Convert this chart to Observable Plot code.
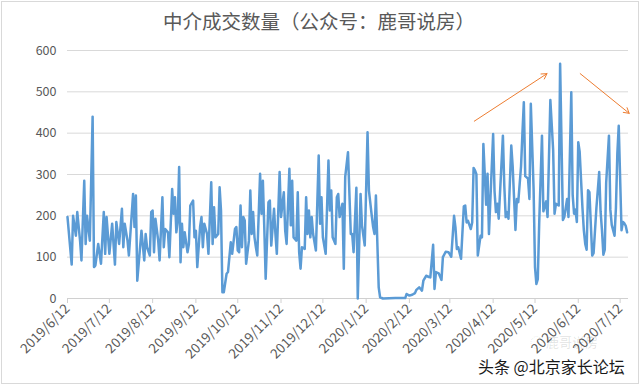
<!DOCTYPE html>
<html>
<head>
<meta charset="utf-8">
<script src="https://cdn.jsdelivr.net/npm/d3@7"></script>
<script src="https://cdn.jsdelivr.net/npm/@observablehq/plot@0.6"></script>
<style>
  body { margin: 0; background: #fff; }
  #wrap { position: relative; width: 640px; height: 385px; overflow: hidden; font-family: "Noto Sans CJK SC", sans-serif; }
  #title { position: absolute; left: 0; width: 638px; top: 6px; text-align: center; font-size: 19.5px; color: #595959; }
  #credit { position: absolute; left: 478px; top: 354px; font-size: 16px; color: #1a1a1a; }
  #wm { position: absolute; left: 530px; top: 334px; font-size: 13px; line-height: 16px; color: rgba(0,0,0,0.12); }
  #frame { position: absolute; left: 1px; top: 1px; width: 636px; height: 381px; border: 1px solid #d9d9d9; pointer-events: none; }
</style>
</head>
<body>
<div id="wrap">
  <div id="chart"></div>
  <div id="title">中介成交数量（公众号：鹿哥说房）</div>
  <div id="wm">◌ 鹿哥说房</div>
  <div id="credit">头条 @北京家长论坛</div>
  <div id="frame"></div>
</div>
<script>
// Day offsets from the first date, and the count at that day
const startDate = "2019-06-12";
const endDate = "2020-07-18";
const dayOffsets = [
  0,3,4,6,7,9,10,12,13,14,16,18,19,20,22,24,26,27,28,30,32,34,35,37,39,40,41,43,44,47,48,49,50,53,55,56,
  57,59,60,61,62,63,65,66,68,69,70,72,73,75,76,77,78,79,80,81,82,83,84,86,87,88,90,91,92,93,95,96,97,98,100,101,103,104,105,106,108,109,110,111,
  112,114,115,117,118,120,121,122,123,124,125,126,127,128,130,131,132,133,134,135,136,138,139,140,141,142,144,145,146,148,149,150,152,153,155,156,157,159,160,161,162,164,165,166,167,168,170,
  171,172,173,174,175,176,178,180,181,182,183,185,187,188,189,190,192,193,194,195,197,198,199,201,203,204,205,207,208,210,211,213,215,216,218,219,220,221,223,224,226,235,242,
  243,245,247,249,250,252,253,254,255,257,259,260,262,263,264,266,268,269,271,273,275,277,278,279,280,282,284,285,286,287,289,290,
  291,292,293,294,296,297,298,300,301,302,305,306,307,308,309,312,313,314,315,316,318,319,321,322,323,325,326,327,328,330,331,332,334,335,336,337,338,340,
  341,343,344,346,348,349,350,352,353,355,356,358,359,361,362,363,364,365,366,367,369,370,371,372,373,374,376,377,379,381,382,383,384,385,386,388,389,390,392,393,394,395,397,398,399,400,401
];
const counts = [
  197,82,200,152,209,140,92,285,132,200,140,440,76,80,132,84,209,108,197,108,181,82,185,132,217,124,181,140,104,253,173,249,43,164,92,156,
  124,104,209,213,112,193,140,92,245,124,168,160,100,265,205,245,160,189,318,88,181,124,160,112,132,225,237,148,164,76,173,197,124,181,156,108,281,132,221,148,156,269,213,15,
  15,60,64,136,108,168,173,116,112,225,124,197,189,84,140,261,156,209,148,124,104,302,205,285,173,48,233,237,128,217,156,108,306,197,257,164,132,314,177,285,148,140,257,112,72,124,120,
  245,156,213,148,197,156,116,346,181,245,148,108,334,213,261,148,132,245,253,197,229,72,294,354,156,156,112,268,0,253,177,128,402,261,201,173,156,249,27,3,0,1,1,
  11,7,9,13,21,27,23,19,43,55,52,51,130,23,64,61,45,100,113,112,101,200,172,120,124,96,223,225,184,188,168,184,
  316,310,301,104,152,148,374,227,302,156,398,260,209,229,193,394,273,197,209,193,370,320,166,241,233,320,400,475,296,290,241,471,265,76,35,47,181,394,
  211,235,197,480,360,205,229,225,568,190,197,241,197,499,250,205,215,185,378,355,220,165,132,118,262,257,104,110,219,306,210,165,106,118,280,394,215,178,152,220,350,418,165,185,182,176,160
];
const yTicks = [0, 100, 200, 300, 400, 500, 600];
const xTickDates = ["2019-06-12","2019-07-12","2019-08-12","2019-09-12","2019-10-12","2019-11-12","2019-12-12",
                    "2020-01-12","2020-02-12","2020-03-12","2020-04-12","2020-05-12","2020-06-12","2020-07-12"];
const xTickLabels = ["2019/6/12","2019/7/12","2019/8/12","2019/9/12","2019/10/12","2019/11/12","2019/12/12",
                     "2020/1/12","2020/2/12","2020/3/12","2020/4/12","2020/5/12","2020/6/12","2020/7/12"];
// Two trend arrows (start day, start value, end day, end value)
const arrowDays1 = [291.5, 367.4];
const arrowVals1 = [429, 544];
const arrowDays2 = [343.6, 402.5];
const arrowVals2 = [544, 448];

const base = new Date(startDate + "T00:00:00Z");
const toDate = d => new Date(base.getTime() + d * 864e5);
const data = dayOffsets.map((d, i) => ({date: toDate(d), value: counts[i]}));
const ticks = xTickDates.map(s => new Date(s + "T00:00:00Z"));
const labelOf = new Map(ticks.map((t, i) => [+t, xTickLabels[i]]));
const arrows = arrowDays1.map((d, i) => ({x1: toDate(d), y1: arrowVals1[i], x2: toDate(arrowDays2[i]), y2: arrowVals2[i]}));

const chart = Plot.plot({
  width: 640,
  height: 385,
  marginLeft: 67,
  marginRight: 12,
  marginTop: 50,
  marginBottom: 87,
  style: {fontFamily: "'Noto Sans CJK SC', sans-serif", fontSize: "12.5px", color: "#595959", background: "#fff"},
  x: {type: "utc", domain: [base, new Date(endDate + "T00:00:00Z")]},
  y: {domain: [0, 600]},
  marks: [
    Plot.ruleY(yTicks.slice(1), {stroke: "#d9d9d9", strokeWidth: 1}),
    Plot.ruleY([0], {stroke: "#d0d0d0", strokeWidth: 1}),
    Plot.axisY({ticks: yTicks, tickSize: 0, tickPadding: 11, label: null, fontSize: 12.5}),
    Plot.axisX({ticks, tickFormat: d => labelOf.get(+d), tickRotate: -45, tickSize: 5, tickPadding: 3, stroke: "#d0d0d0", label: null, fontSize: 13.5}),
    Plot.line(data, {x: "date", y: "value", stroke: "#5B9BD5", strokeWidth: 2.5, strokeLinejoin: "round"}),
    Plot.arrow(arrows, {x1: "x1", y1: "y1", x2: "x2", y2: "y2", stroke: "#ED7D31", strokeWidth: 1, headLength: 9})
  ]
});
document.getElementById("chart").appendChild(chart);
</script>
</body>
</html>
